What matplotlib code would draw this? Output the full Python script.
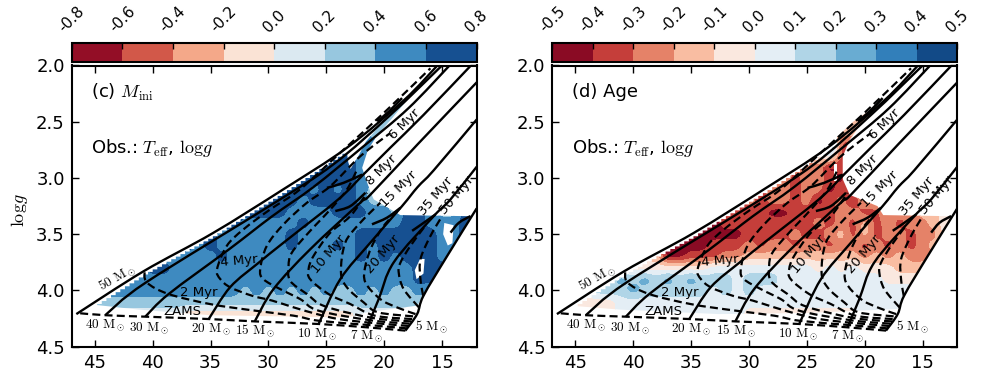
import numpy as np
import matplotlib
matplotlib.use('Agg')
import matplotlib.pyplot as plt
from matplotlib.patches import Polygon, PathPatch
from matplotlib.path import Path

plt.rcParams['mathtext.fontset'] = 'cm'

# evolutionary tracks: Teff (kK), logg
TRACKS = {
    50: ([46.6, 40.8, 34.8, 28.7, 23.2, 18.3, 15.4], [4.21, 3.83, 3.49, 3.10, 2.73, 2.31, 2.0]),
    40: ([44.1, 40.6, 29.7, 24.4, 19.46, 15.0], [4.22, 3.93, 3.236, 2.88, 2.44, 2.0]),
    30: ([40.64, 38.6, 33.4, 29.67, 26.1, 21.8, 17.9, 14.35], [4.233, 4.03, 3.634, 3.34, 3.08, 2.72, 2.38, 2.0]),
    20: ([35.16, 33.3, 30.8, 28.69, 23.96, 21.8, 19.46, 16.6, 12.5], [4.254, 3.97, 3.75, 3.575, 3.19, 2.97, 2.73, 2.44, 2.0]),
    15: ([31.18, 29.56, 26.39, 22.06, 21.2, 17.1, 12.0], [4.275, 3.988, 3.634, 3.22, 3.15, 2.70, 2.15]),
    10: ([25.66, 23.79, 21.19, 18.45, 17.1, 15.7, 12.0], [4.298, 3.90, 3.575, 3.25, 3.08, 2.93, 2.48]),
    7: ([21.48, 20.47, 19.17, 15.71, 14.26, 12.0], [4.328, 4.077, 3.75, 3.339, 3.19, 2.90]),
    5: ([18.16, 17.15, 16.6, 14.55, 12.0], [4.357, 4.21, 4.047, 3.693, 3.27]),
}

# blue loops at the end of the tracks
HOOKS = [
    ([14.26, 13.54, 12.53], [3.486, 3.398, 3.339]),
    ([17.58, 16.57, 15.56], [3.47, 3.398, 3.324]),
    ([21.05, 19.75, 18.59], [3.412, 3.353, 3.265]),
    ([24.22, 22.92, 21.62], [3.294, 3.25, 3.132]),
    ([24.94, 23.5, 21.9], [3.088, 3.043, 2.97]),
    ([20.6, 19.6, 18.45], [2.497, 2.41, 2.29]),
]

# isochrones, from the 5 Msun end
ZAMS_T = [18.16, 21.48, 25.66, 31.18, 35.16, 40.64, 44.1, 46.56]
ZAMS_G = [4.357, 4.328, 4.298, 4.275, 4.254, 4.233, 4.22, 4.20]
ISO_2_T = [18.02, 21.4, 25.66, 27.83, 31.58, 35.04, 38.62, 40.5, 40.7]
ISO_2_G = [4.337, 4.307, 4.269, 4.224, 4.174, 4.121, 4.032, 3.929, 3.817]
ISO_4_T = [17.87, 21.3, 23.93, 25.81, 27.83, 29.68, 31.41, 33.28, 34.15, 34.44, 33.6, 32.16, 29.85, 27.25, 23.5, 20.04, 16.0]
ISO_4_G = [4.316, 4.286, 4.254, 4.21, 4.15, 4.09, 4.047, 3.973, 3.90, 3.811, 3.604, 3.457, 3.28, 3.10, 2.748, 2.423, 2.025]
ISO_6_T = [17.8, 21.1, 25.66, 27.25, 28.98, 30.43, 30.71, 30.14, 28.69, 26.67, 24.65, 22.06, 19.46]
ISO_6_G = [4.295, 4.266, 4.18, 4.077, 3.988, 3.90, 3.811, 3.604, 3.412, 3.22, 3.073, 2.807, 2.60]
ISO_8_T = [17.64, 20.95, 25.09, 26.67, 28.12, 28.26, 27.97, 26.53, 24.65, 23.2, 22.34]
ISO_8_G = [4.275, 4.245, 4.142, 4.032, 3.914, 3.781, 3.663, 3.486, 3.28, 3.10, 2.925]
ISO_10_T = [17.58, 20.8, 22.92, 24.8, 26.39, 26.53, 26.1, 24.65, 22.92, 21.48]
ISO_10_G = [4.254, 4.224, 4.121, 4.032, 3.90, 3.811, 3.693, 3.486, 3.339, 3.132]
ISO_15_T = [17.5, 20.5, 21.77, 23.21, 23.73, 23.36, 22.06, 20.33]
ISO_15_G = [4.23, 4.195, 4.106, 3.973, 3.84, 3.575, 3.398, 3.22]
ISO_20_T = [17.29, 18.88, 20.33, 21.62, 21.62, 21.05, 20.04, 18.74]
ISO_20_G = [4.21, 4.151, 4.077, 3.929, 3.781, 3.604, 3.427, 3.28]
ISO_35_T = [17.0, 18.31, 18.74, 18.59, 17.73, 16.57]
ISO_35_G = [4.15, 3.988, 3.84, 3.752, 3.604, 3.442]
ISO_50_T = [16.63, 16.86, 16.86, 16.0, 14.99]
ISO_50_G = [4.047, 3.90, 3.722, 3.516, 3.339]
ISOCHRONES = [(ZAMS_T, ZAMS_G), (ISO_2_T, ISO_2_G), (ISO_4_T, ISO_4_G), (ISO_6_T, ISO_6_G),
              (ISO_8_T, ISO_8_G), (ISO_10_T, ISO_10_G), (ISO_15_T, ISO_15_G),
              (ISO_20_T, ISO_20_G), (ISO_35_T, ISO_35_G), (ISO_50_T, ISO_50_G)]

# deviation maps, one digit per Teff (47 ... 12 kK), digit = colour band
GRID_T = np.arange(47, 11, -1)
GRID_G = np.round(np.arange(2.2, 4.35, 0.1), 1)

BANDS_C = [
    "777777777777777777776666555555555555",  # 2.2
    "777777777777777777776666555555555555",
    "777777777777777777776666555555555555",
    "777777777777777777776666655555555555",
    "777777777777777777776666665555555555",
    "777777777777777777777666666555555555",
    "777777777777777777777777766555555555",  # 2.8
    "777777777777777777777777766555555555",
    "777777777777777777777777766655555555",
    "777777777777777767677676765555555555",
    "777777777777777777776777765555555555",  # 3.2
    "777777777777777777766667776657765577",
    "777777777777777666667666666667766677",
    "777777777777766666676666677777776677",
    "777777777776766666676667676777776666",
    "666666666666676666666666676767776666",  # 3.7
    "666666677666666666666666666666777666",
    "666666666666666666666666666666776666",
    "666666666666666565656565565655656666",  # 4.0
    "555555555555555555555555555555555555",
    "444444444433333333333333344444444444",
    "444444444433333333333333433444444444",
]

BANDS_D = [
    "222222222222222222222222113333333444",  # 2.2
    "222222222222222222222222113333333444",
    "222222222222222222222222113333333444",
    "222222222222222222222222113333333444",
    "222222222222222222222222133333333444",  # 2.6
    "222222222222222222222228811333333444",
    "222222222222222222222224512333333444",
    "222222222222222222222222012333333444",
    "222222222222222222222122102333333444",
    "111111111122122122122122012333333444",
    "111111111112123212122120120333333444",  # 3.2
    "000000000000111111100111122113223344",
    "000000000000000111111112121312122344",
    "000000000000000001111211231312212244",
    "000000000000001112122122122121212334",
    "333333333300111223333333333232322233",  # 3.7
    "444444444444445555555554545444333444",
    "555666767676766656665555555554444444",
    "555566676666665656555555555555555555",  # 4.0
    "444444555555555555555555555555555555",
    "444444555555555554444444444555555555",
    "444444555555555554444444444444444444",
]

# colour bar levels
LEVELS_C = [-0.8, -0.6, -0.4, -0.2, 0.0, 0.2, 0.4, 0.6, 0.8]
LEVELS_D = [-0.5, -0.4, -0.3, -0.2, -0.1, 0.0, 0.1, 0.2, 0.3, 0.4, 0.5]
COLORS_C = ['#930e26', '#d25849', '#f4a889', '#fae3d5', '#dbe9f1', '#97c7df', '#3e8ac0', '#165091']
COLORS_D = ['#8a0b24', '#c53e3a', '#e58268', '#f9bda2', '#fae8df', '#e4eef5', '#b0d5e7', '#69acd2', '#327fba', '#124a87']

# outline of the covered area, after the jagged upper edge
EDGE_C_T = [23.1, 22.9, 22.2, 21.6, 20.3, 19.2, 18.0, 18.2, 19.4, 20.6, 21.4, 21.9, 21.2, 20.9, 18.6, 12.5,
            14.55, 16.6, 17.15, 21.5, 23.2, 35.0, 41.2, 44.8]
EDGE_C_G = [2.86, 2.92, 2.80, 2.68, 2.52, 2.41, 2.27, 2.33, 2.48, 2.62, 2.75, 2.91, 3.12, 3.19, 3.33, 3.34,
            3.693, 4.047, 4.135, 4.195, 4.24, 4.22, 4.17, 4.13]
EDGE_D_T = [22.4, 21.0, 19.6, 18.8, 19.4, 20.6, 21.3, 21.9, 21.9, 21.3, 18.9, 18.4, 12.5,
            14.55, 16.6, 17.15, 25.0, 32.6, 41.2, 44.8]
EDGE_D_G = [2.64, 2.50, 2.40, 2.33, 2.44, 2.56, 2.66, 2.81, 3.01, 3.15, 3.25, 3.33, 3.34,
            3.693, 4.047, 4.165, 4.20, 4.21, 4.17, 4.14]

# holes in the maps
HOLES_C = [
    ([17.2, 16.6, 16.5, 16.9, 17.35], [3.90, 3.85, 3.72, 3.72, 3.82]),
    ([14.8, 14.0, 14.1, 14.5, 14.9], [3.40, 3.42, 3.58, 3.60, 3.50]),
]
HOLES_D = [([22.65, 22.4, 22.4, 22.65], [2.88, 2.88, 3.03, 3.03])]

MASS_LABELS = [
    (43.1, 3.885, 50, 30), (44.1, 4.31, 40, 0), (40.3, 4.33, 30, 0), (35.0, 4.347, 20, 0),
    (31.15, 4.36, 15, 0), (25.8, 4.392, 10, 0), (21.5, 4.405, 7, 0), (15.85, 4.325, 5, 0),
]
AGE_LABELS = [
    (37.4, 4.187, 'ZAMS', 0), (36.0, 4.018, '2 Myr', 0), (32.5, 3.738, '4 Myr', 5),
    (18.25, 2.518, '6 Myr', 45), (20.2, 2.93, '8 Myr', 45), (24.8, 3.68, '10 Myr', 50),
    (18.75, 3.10, '15 Myr', 45), (20.1, 3.68, '20 Myr', 50), (15.5, 3.165, '35 Myr', 50),
    (13.75, 3.155, '50 Myr', 50),
]

W, H = 981, 380


def soft_grid(z, factor=4):
    # rounds the contour corners a little, the source map was much finer than this one
    nx = np.linspace(0, z.shape[1] - 1, (z.shape[1] - 1) * factor + 1)
    ny = np.linspace(0, z.shape[0] - 1, (z.shape[0] - 1) * factor + 1)
    a = np.array([np.interp(nx, np.arange(z.shape[1]), r) for r in z])
    a = np.array([np.interp(ny, np.arange(z.shape[0]), c) for c in a.T]).T
    k = np.ones(3) / 3
    for axis in (0, 1):
        a = np.apply_along_axis(lambda m: np.convolve(np.pad(m, 1, mode='edge'), k, mode='valid'), axis, a)
    return a, nx, ny


def curve(t, g):
    # Catmull-Rom through the read points, drawn as a bezier path
    p = np.column_stack([t, g])
    q = np.vstack([p[0], p, p[-1]])
    verts = [p[0]]
    for i in range(1, len(q) - 2):
        verts += [q[i] + (q[i + 1] - q[i - 1]) / 6, q[i + 1] - (q[i + 2] - q[i]) / 6, q[i + 1]]
    codes = [Path.MOVETO] + [Path.CURVE4] * (len(verts) - 1)
    return Path(verts, codes)


def draw_panel(fig, left, bands, levels, colors, edge_t, edge_g, holes, stair_end, title):
    ax = fig.add_axes([left / W, 1 - 346.7 / H, 405 / W, 281.2 / H])
    cax = fig.add_axes([left / W, 1 - 62 / H, 405 / W, 19.5 / H])

    step = levels[1] - levels[0]
    z = np.array([[levels[0] + (int(c) + 0.5) * step for c in row] for row in bands])
    zz, nx, ny = soft_grid(z)
    tt = np.interp(nx, np.arange(len(GRID_T)), GRID_T)
    gg = np.interp(ny, np.arange(len(GRID_G)), GRID_G)
    cf = ax.contourf(tt, gg, zz, levels=levels, colors=colors, zorder=1)

    # jagged upper edge, from the 50 Msun track
    t50 = np.array(TRACKS[50][0])[::-1]
    g50 = np.array(TRACKS[50][1])[::-1]
    stairs = []
    for t0 in np.arange(44.8, stair_end, -0.4):
        g0 = np.interp(t0, t50, g50) + 0.028
        stairs += [(t0, g0), (t0 - 0.4, g0)]
    outline = stairs + list(zip(edge_t, edge_g))
    clip = Polygon(outline, closed=True, transform=ax.transData, fc='none', ec='none')
    ax.add_patch(clip)
    cf.set_clip_path(clip)

    for ht, hg in holes:
        ax.fill(ht, hg, color='white', lw=0, zorder=2)

    for m, (t, g) in TRACKS.items():
        ax.add_patch(PathPatch(curve(t, g), fc='none', ec='k', lw=1.7, zorder=3))
    for t, g in HOOKS:
        ax.add_patch(PathPatch(curve(t, g), fc='none', ec='k', lw=1.8, zorder=3))
    for t, g in ISOCHRONES:
        ax.add_patch(PathPatch(curve(t, g), fc='none', ec='k', lw=1.6, ls=(0, (3.6, 1.9)), zorder=3))

    for t, g, m, rot in MASS_LABELS:
        ax.text(t, g, r'$\rm %d\ M_\odot$' % m, fontsize=9.5, rotation=rot, ha='center', va='center', zorder=4)
    for t, g, s, rot in AGE_LABELS:
        ax.text(t, g, s, fontsize=9.5, rotation=rot, ha='center', va='center', zorder=4,
                rotation_mode='anchor')

    ax.text(45.3, 2.24, title, fontsize=13, va='center')
    ax.text(45.3, 2.73, r'Obs.: $T_{\rm eff}$, ${\rm log}g$', fontsize=13, va='center')

    ax.set_xlim(47, 12)
    ax.set_ylim(4.5, 2.0)
    ax.set_xticks([45, 40, 35, 30, 25, 20, 15])
    ax.set_yticks([2.0, 2.5, 3.0, 3.5, 4.0, 4.5])
    ax.tick_params(direction='in', length=5, width=1, top=True, right=True, labelsize=13, pad=5)
    for s in ax.spines.values():
        s.set_linewidth(1.5)

    cb = fig.colorbar(cf, cax=cax, orientation='horizontal', ticklocation='top')
    cb.set_ticks(levels, labels=['%.1f' % v for v in levels])
    cb.ax.tick_params(direction='in', length=4, width=1, labelsize=11, pad=5, labelrotation=45)
    cb.outline.set_linewidth(1.5)
    return ax


fig = plt.figure(figsize=(W / 100, H / 100), dpi=100)

draw_panel(fig, 71.7, BANDS_C, LEVELS_C, COLORS_C, EDGE_C_T, EDGE_C_G, HOLES_C, 23.2, r'(c) $M_{\rm ini}$')
draw_panel(fig, 552.3, BANDS_D, LEVELS_D, COLORS_D, EDGE_D_T, EDGE_D_G, HOLES_D, 22.5, '(d) Age')

fig.text(20 / W, 1 - 210 / H, r'${\rm log}g$', rotation=90, fontsize=13, ha='center', va='center')

fig.savefig('out.png', dpi=100)
